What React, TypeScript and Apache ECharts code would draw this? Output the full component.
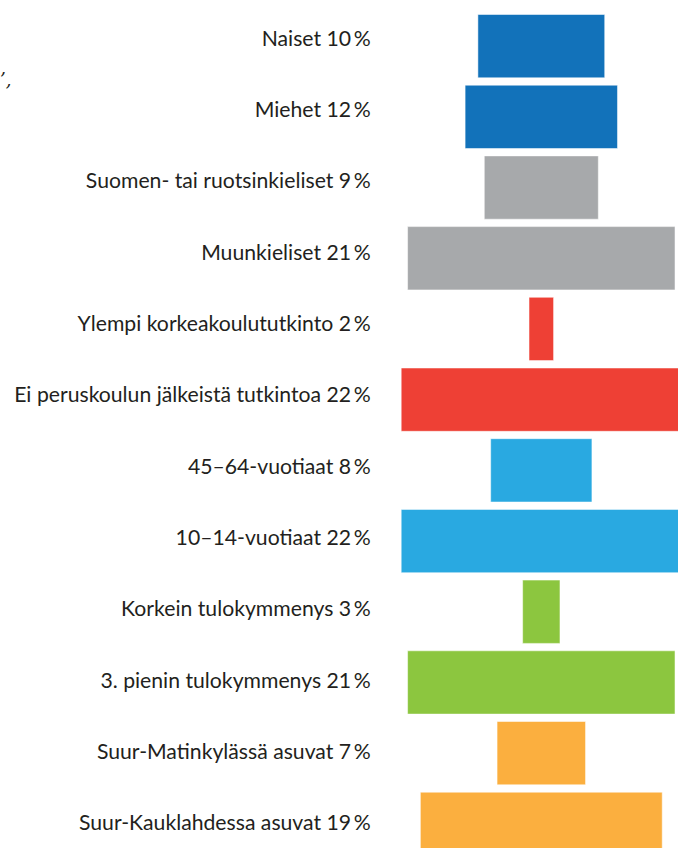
import React, { useEffect, useRef } from "react";
import * as echarts from "echarts";

const categories = [
  "Naiset",
  "Miehet",
  "Suomen- tai ruotsinkieliset",
  "Muunkieliset",
  "Ylempi korkeakoulututkinto",
  "Ei peruskoulun jälkeistä tutkintoa",
  "45–64-vuotiaat",
  "10–14-vuotiaat",
  "Korkein tulokymmenys",
  "3. pienin tulokymmenys",
  "Suur-Matinkylässä asuvat",
  "Suur-Kauklahdessa asuvat",
];
const values = [10, 12, 9, 21, 2, 22, 8, 22, 3, 21, 7, 19];
const colors = [
  "#1272BA",
  "#1272BA",
  "#A7A9AB",
  "#A7A9AB",
  "#EE4035",
  "#EE4035",
  "#29A9E1",
  "#29A9E1",
  "#8CC63F",
  "#8CC63F",
  "#FBAF3F",
  "#FBAF3F",
];

export default function App() {
  const ref = useRef<HTMLDivElement>(null);
  useEffect(() => {
    document.body.style.margin = "0";
    if (!ref.current) return;
    const chart = echarts.init(ref.current, undefined, { renderer: "svg" });
    const maxV = Math.max(...values);
    const labels = categories.map((c, i) => `${c} ${values[i]}\u2009%`);
    chart.setOption({
      animation: false,
      grid: [
        {
          left: 400.7,
          top: 10.8,
          width: 281.2,
          height: 848.4,
          outerBoundsMode: "none",
          containLabel: false,
        },
        {
          left: 400.7,
          top: 2.0,
          width: 281.2,
          height: 856.1,
          outerBoundsMode: "none",
          containLabel: false,
        },
      ],
      xAxis: [
        { type: "value", gridIndex: 0, min: 0, max: maxV, show: false },
        { type: "value", gridIndex: 1, min: 0, max: maxV, show: false },
      ],
      yAxis: [
        {
          type: "category",
          gridIndex: 0,
          inverse: true,
          data: categories,
          show: false,
        },
        {
          type: "category",
          gridIndex: 1,
          inverse: true,
          data: labels,
          axisLine: { show: false },
          axisTick: { show: false },
          splitLine: { show: false },
          axisLabel: {
            margin: 30,
            fontFamily: "Lato",
            fontSize: 21.2,
            color: "#231F20",
          },
        },
      ],
      graphic: [
        {
          type: "text",
          left: 0,
          top: 70,
          style: {
            text: "’,",
            font: "italic 18px 'DejaVu Serif'",
            fill: "#231F20",
          },
        },
      ],
      series: [
        {
          type: "bar",
          stack: "s",
          xAxisIndex: 0,
          yAxisIndex: 0,
          barWidth: 64.3,
          silent: true,
          itemStyle: { color: "transparent" },
          data: values.map((v) => (maxV - v) / 2),
        },
        {
          type: "bar",
          stack: "s",
          xAxisIndex: 0,
          yAxisIndex: 0,
          barWidth: 64.3,
          data: values.map((v, i) => ({
            value: v,
            itemStyle: {
              color: colors[i],
              borderColor: "rgba(255,255,255,0.5)",
              borderWidth: 1,
            },
          })),
        },
      ],
    });
    return () => chart.dispose();
  }, []);
  return <div ref={ref} style={{ width: 678, height: 848 }} />;
}
